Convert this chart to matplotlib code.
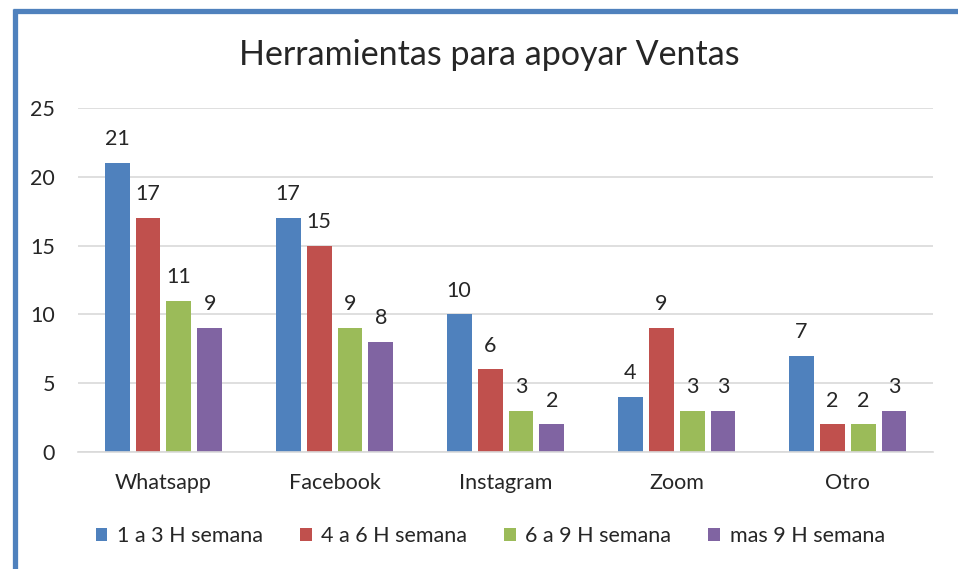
import numpy as np
import matplotlib.pyplot as plt
from matplotlib.lines import Line2D

# data
categories = ['Whatsapp', 'Facebook', 'Instagram', 'Zoom', 'Otro']
series_names = ['1 a 3 H semana', '4 a 6 H semana', '6 a 9 H semana', 'mas 9 H semana']
h1_3 = [21, 17, 10, 4, 7]
h4_6 = [17, 15, 6, 9, 2]
h6_9 = [11, 9, 3, 3, 2]
h9_mas = [9, 8, 2, 3, 3]
colors = ['#4F81BD', '#C0504D', '#9BBB59', '#8064A2']

plt.rcParams['font.family'] = ['Lato', 'DejaVu Sans']
txt = '#262626'
fs = 15.5

fig = plt.figure(figsize=(9.58, 5.69), dpi=100)
ax = fig.add_axes([0.0814, 0.2056, 0.8926, 0.6046])

x = np.arange(len(categories))
bw = 0.146
step = 0.181
for i, (vals, name) in enumerate(zip([h1_3, h4_6, h6_9, h9_mas], series_names)):
    pos = x + (i - 1.5) * step
    bars = ax.bar(pos, vals, width=bw, color=colors[i], label=name)
    for b, v in zip(bars, vals):
        ax.annotate(str(v), (b.get_x() + b.get_width() / 2, v),
                    xytext=(0, 10), textcoords='offset points',
                    ha='center', va='bottom', fontsize=fs, color=txt)

ax.set_xlim(-0.5, len(categories) - 0.5)
ax.set_ylim(0, 25)
ax.set_yticks([0, 5, 10, 15, 20, 25])
ax.set_xticks(x)
ax.set_xticklabels(categories)
ax.tick_params(axis='both', length=0, labelsize=fs, labelcolor=txt)
ax.tick_params(axis='y', pad=16.5)
ax.tick_params(axis='x', pad=15)
ax.yaxis.grid(True, color='#D9D9D9', linewidth=1.2)
ax.set_axisbelow(True)
for s in ['top', 'right', 'left']:
    ax.spines[s].set_visible(False)
ax.spines['bottom'].set_color('#D9D9D9')
ax.spines['bottom'].set_linewidth(1.2)

fig.text(0.511, 0.903, 'Herramientas para apoyar Ventas', ha='center', va='center',
         fontsize=24.5, color=txt)

ax.legend(loc='center', bbox_to_anchor=(0.482, -0.245), ncol=4, frameon=False,
          fontsize=fs, handlelength=0.55, handleheight=0.55, handletextpad=0.45,
          columnspacing=1.7, labelcolor=txt)

# blue frame (top and left)
fig.add_artist(Line2D([13 / 958, 1.0], [1 - 10.5 / 569, 1 - 10.5 / 569],
                      transform=fig.transFigure, color='#4F81BD', linewidth=3.8,
                      solid_capstyle='butt'))
fig.add_artist(Line2D([15.5 / 958, 15.5 / 958], [0, 1 - 8.5 / 569],
                      transform=fig.transFigure, color='#4F81BD', linewidth=3.8,
                      solid_capstyle='butt'))

fig.savefig('out.png', dpi=100)
